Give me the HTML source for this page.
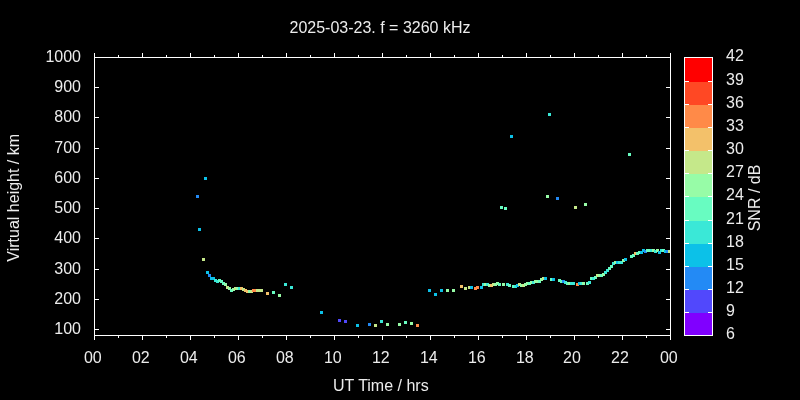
<!DOCTYPE html><html><head><meta charset="utf-8"><title>plot</title><style>
html,body{margin:0;padding:0;background:#000;}svg{display:block}
text{font-family:"Liberation Sans",Arial,sans-serif;font-size:16px;fill:#ececec}
.l{stroke:#fff;stroke-width:1;fill:none;shape-rendering:crispEdges}
</style></head><body>
<svg width="800" height="400" viewBox="0 0 800 400">
<rect x="0" y="0" width="800" height="400" fill="#000"/>
<g shape-rendering="crispEdges">
<rect x="204" y="177" width="3" height="3" fill="#0cc1e8"/>
<rect x="196" y="195" width="3" height="3" fill="#238af5"/>
<rect x="198" y="228" width="3" height="3" fill="#0cc1e8"/>
<rect x="202" y="258" width="3" height="3" fill="#c5e88a"/>
<rect x="206" y="271" width="3" height="3" fill="#0cc1e8"/>
<rect x="208" y="274" width="3" height="3" fill="#238af5"/>
<rect x="210" y="277" width="3" height="3" fill="#0cc1e8"/>
<rect x="212" y="277" width="3" height="3" fill="#0cc1e8"/>
<rect x="214" y="279" width="3" height="3" fill="#3ae8d7"/>
<rect x="216" y="280" width="3" height="3" fill="#3ae8d7"/>
<rect x="218" y="279" width="3" height="3" fill="#68fcc1"/>
<rect x="220" y="280" width="3" height="3" fill="#68fcc1"/>
<rect x="222" y="282" width="3" height="3" fill="#68fcc1"/>
<rect x="224" y="283" width="3" height="3" fill="#97fca7"/>
<rect x="226" y="286" width="3" height="3" fill="#c5e88a"/>
<rect x="228" y="287" width="3" height="3" fill="#97fca7"/>
<rect x="230" y="289" width="3" height="3" fill="#68fcc1"/>
<rect x="232" y="288" width="3" height="3" fill="#97fca7"/>
<rect x="234" y="287" width="3" height="3" fill="#c5e88a"/>
<rect x="236" y="287" width="3" height="3" fill="#97fca7"/>
<rect x="238" y="287" width="3" height="3" fill="#3ae8d7"/>
<rect x="240" y="287" width="3" height="3" fill="#f3c16a"/>
<rect x="242" y="288" width="3" height="3" fill="#c5e88a"/>
<rect x="244" y="289" width="3" height="3" fill="#f3c16a"/>
<rect x="246" y="290" width="3" height="3" fill="#f3c16a"/>
<rect x="248" y="290" width="3" height="3" fill="#97fca7"/>
<rect x="250" y="290" width="3" height="3" fill="#c5e88a"/>
<rect x="252" y="289" width="3" height="3" fill="#ff8a48"/>
<rect x="254" y="289" width="3" height="3" fill="#ff8a48"/>
<rect x="256" y="289" width="3" height="3" fill="#c5e88a"/>
<rect x="258" y="289" width="3" height="3" fill="#c5e88a"/>
<rect x="260" y="289" width="3" height="3" fill="#c5e88a"/>
<rect x="266" y="292" width="3" height="3" fill="#f3c16a"/>
<rect x="272" y="291" width="3" height="3" fill="#68fcc1"/>
<rect x="278" y="294" width="3" height="3" fill="#97fca7"/>
<rect x="284" y="283" width="3" height="3" fill="#3ae8d7"/>
<rect x="290" y="286" width="3" height="3" fill="#3ae8d7"/>
<rect x="320" y="311" width="3" height="3" fill="#0cc1e8"/>
<rect x="338" y="319" width="3" height="3" fill="#5148fc"/>
<rect x="344" y="320" width="3" height="3" fill="#5148fc"/>
<rect x="356" y="324" width="3" height="3" fill="#0cc1e8"/>
<rect x="368" y="323" width="3" height="3" fill="#238af5"/>
<rect x="374" y="324" width="3" height="3" fill="#c5e88a"/>
<rect x="380" y="320" width="3" height="3" fill="#3ae8d7"/>
<rect x="386" y="323" width="3" height="3" fill="#97fca7"/>
<rect x="398" y="323" width="3" height="3" fill="#97fca7"/>
<rect x="404" y="321" width="3" height="3" fill="#68fcc1"/>
<rect x="410" y="322" width="3" height="3" fill="#97fca7"/>
<rect x="416" y="324" width="3" height="3" fill="#ff8a48"/>
<rect x="428" y="289" width="3" height="3" fill="#0cc1e8"/>
<rect x="434" y="293" width="3" height="3" fill="#0cc1e8"/>
<rect x="440" y="289" width="3" height="3" fill="#0cc1e8"/>
<rect x="446" y="289" width="3" height="3" fill="#97fca7"/>
<rect x="452" y="289" width="3" height="3" fill="#97fca7"/>
<rect x="460" y="285" width="3" height="3" fill="#f3c16a"/>
<rect x="464" y="287" width="3" height="3" fill="#c5e88a"/>
<rect x="468" y="286" width="3" height="3" fill="#c5e88a"/>
<rect x="470" y="286" width="3" height="3" fill="#0cc1e8"/>
<rect x="474" y="287" width="3" height="3" fill="#ff8a48"/>
<rect x="476" y="286" width="3" height="3" fill="#ff8a48"/>
<rect x="480" y="286" width="3" height="3" fill="#0cc1e8"/>
<rect x="482" y="283" width="3" height="3" fill="#3ae8d7"/>
<rect x="484" y="283" width="3" height="3" fill="#97fca7"/>
<rect x="486" y="283" width="3" height="3" fill="#3ae8d7"/>
<rect x="488" y="284" width="3" height="3" fill="#97fca7"/>
<rect x="490" y="284" width="3" height="3" fill="#f3c16a"/>
<rect x="492" y="283" width="3" height="3" fill="#c5e88a"/>
<rect x="494" y="283" width="3" height="3" fill="#97fca7"/>
<rect x="496" y="282" width="3" height="3" fill="#97fca7"/>
<rect x="498" y="283" width="3" height="3" fill="#68fcc1"/>
<rect x="502" y="283" width="3" height="3" fill="#97fca7"/>
<rect x="506" y="283" width="3" height="3" fill="#3ae8d7"/>
<rect x="508" y="284" width="3" height="3" fill="#68fcc1"/>
<rect x="512" y="285" width="3" height="3" fill="#68fcc1"/>
<rect x="514" y="285" width="3" height="3" fill="#3ae8d7"/>
<rect x="516" y="284" width="3" height="3" fill="#0cc1e8"/>
<rect x="518" y="283" width="3" height="3" fill="#c5e88a"/>
<rect x="520" y="284" width="3" height="3" fill="#97fca7"/>
<rect x="522" y="284" width="3" height="3" fill="#c5e88a"/>
<rect x="524" y="283" width="3" height="3" fill="#97fca7"/>
<rect x="526" y="282" width="3" height="3" fill="#97fca7"/>
<rect x="528" y="282" width="3" height="3" fill="#68fcc1"/>
<rect x="530" y="281" width="3" height="3" fill="#97fca7"/>
<rect x="532" y="281" width="3" height="3" fill="#3ae8d7"/>
<rect x="534" y="280" width="3" height="3" fill="#97fca7"/>
<rect x="536" y="280" width="3" height="3" fill="#97fca7"/>
<rect x="538" y="280" width="3" height="3" fill="#68fcc1"/>
<rect x="540" y="278" width="3" height="3" fill="#97fca7"/>
<rect x="542" y="277" width="3" height="3" fill="#c5e88a"/>
<rect x="544" y="277" width="3" height="3" fill="#0cc1e8"/>
<rect x="550" y="278" width="3" height="3" fill="#68fcc1"/>
<rect x="552" y="278" width="3" height="3" fill="#0cc1e8"/>
<rect x="558" y="279" width="3" height="3" fill="#68fcc1"/>
<rect x="560" y="280" width="3" height="3" fill="#68fcc1"/>
<rect x="562" y="280" width="3" height="3" fill="#238af5"/>
<rect x="564" y="281" width="3" height="3" fill="#3ae8d7"/>
<rect x="566" y="282" width="3" height="3" fill="#68fcc1"/>
<rect x="568" y="282" width="3" height="3" fill="#97fca7"/>
<rect x="570" y="282" width="3" height="3" fill="#3ae8d7"/>
<rect x="572" y="282" width="3" height="3" fill="#3ae8d7"/>
<rect x="576" y="283" width="3" height="3" fill="#ff8a48"/>
<rect x="578" y="282" width="3" height="3" fill="#0cc1e8"/>
<rect x="580" y="282" width="3" height="3" fill="#3ae8d7"/>
<rect x="582" y="282" width="3" height="3" fill="#97fca7"/>
<rect x="586" y="282" width="3" height="3" fill="#68fcc1"/>
<rect x="588" y="281" width="3" height="3" fill="#3ae8d7"/>
<rect x="590" y="277" width="3" height="3" fill="#68fcc1"/>
<rect x="592" y="277" width="3" height="3" fill="#3ae8d7"/>
<rect x="594" y="276" width="3" height="3" fill="#68fcc1"/>
<rect x="596" y="274" width="3" height="3" fill="#c5e88a"/>
<rect x="598" y="274" width="3" height="3" fill="#97fca7"/>
<rect x="600" y="274" width="3" height="3" fill="#68fcc1"/>
<rect x="602" y="273" width="3" height="3" fill="#97fca7"/>
<rect x="604" y="271" width="3" height="3" fill="#3ae8d7"/>
<rect x="606" y="269" width="3" height="3" fill="#3ae8d7"/>
<rect x="608" y="267" width="3" height="3" fill="#68fcc1"/>
<rect x="610" y="265" width="3" height="3" fill="#68fcc1"/>
<rect x="612" y="262" width="3" height="3" fill="#3ae8d7"/>
<rect x="614" y="261" width="3" height="3" fill="#97fca7"/>
<rect x="616" y="261" width="3" height="3" fill="#0cc1e8"/>
<rect x="618" y="261" width="3" height="3" fill="#3ae8d7"/>
<rect x="620" y="261" width="3" height="3" fill="#3ae8d7"/>
<rect x="622" y="259" width="3" height="3" fill="#97fca7"/>
<rect x="624" y="258" width="3" height="3" fill="#0cc1e8"/>
<rect x="630" y="255" width="3" height="3" fill="#68fcc1"/>
<rect x="632" y="254" width="3" height="3" fill="#68fcc1"/>
<rect x="634" y="252" width="3" height="3" fill="#f3c16a"/>
<rect x="636" y="252" width="3" height="3" fill="#68fcc1"/>
<rect x="638" y="251" width="3" height="3" fill="#68fcc1"/>
<rect x="640" y="251" width="3" height="3" fill="#0cc1e8"/>
<rect x="642" y="249" width="3" height="3" fill="#0cc1e8"/>
<rect x="644" y="250" width="3" height="3" fill="#238af5"/>
<rect x="646" y="249" width="3" height="3" fill="#68fcc1"/>
<rect x="648" y="249" width="3" height="3" fill="#68fcc1"/>
<rect x="650" y="249" width="3" height="3" fill="#3ae8d7"/>
<rect x="652" y="249" width="3" height="3" fill="#97fca7"/>
<rect x="654" y="250" width="3" height="3" fill="#3ae8d7"/>
<rect x="656" y="249" width="3" height="3" fill="#97fca7"/>
<rect x="658" y="251" width="3" height="3" fill="#0cc1e8"/>
<rect x="660" y="249" width="3" height="3" fill="#3ae8d7"/>
<rect x="662" y="249" width="3" height="3" fill="#68fcc1"/>
<rect x="664" y="250" width="3" height="3" fill="#0cc1e8"/>
<rect x="666" y="250" width="3" height="3" fill="#238af5"/>
<rect x="668" y="250" width="3" height="3" fill="#c5e88a"/>
<rect x="548" y="113" width="3" height="3" fill="#3ae8d7"/>
<rect x="510" y="135" width="3" height="3" fill="#0cc1e8"/>
<rect x="500" y="206" width="3" height="3" fill="#68fcc1"/>
<rect x="504" y="207" width="3" height="3" fill="#68fcc1"/>
<rect x="546" y="195" width="3" height="3" fill="#97fca7"/>
<rect x="556" y="197" width="3" height="3" fill="#238af5"/>
<rect x="574" y="206" width="3" height="3" fill="#c5e88a"/>
<rect x="584" y="203" width="3" height="3" fill="#97fca7"/>
<rect x="628" y="153" width="3" height="3" fill="#68fcc1"/>
</g>
<g shape-rendering="crispEdges">
<rect x="94" y="57" width="577" height="1" fill="#fff"/>
<rect x="94" y="335" width="577" height="1" fill="#fff"/>
<rect x="94" y="57" width="1" height="279" fill="#fff"/>
<rect x="670" y="57" width="1" height="279" fill="#fff"/>
<rect x="94" y="53" width="1" height="5" fill="#fff"/>
<rect x="94" y="335" width="1" height="5" fill="#fff"/>
<rect x="118" y="55" width="1" height="3" fill="#fff"/>
<rect x="118" y="335" width="1" height="3" fill="#fff"/>
<rect x="142" y="53" width="1" height="5" fill="#fff"/>
<rect x="142" y="335" width="1" height="5" fill="#fff"/>
<rect x="166" y="55" width="1" height="3" fill="#fff"/>
<rect x="166" y="335" width="1" height="3" fill="#fff"/>
<rect x="190" y="53" width="1" height="5" fill="#fff"/>
<rect x="190" y="335" width="1" height="5" fill="#fff"/>
<rect x="214" y="55" width="1" height="3" fill="#fff"/>
<rect x="214" y="335" width="1" height="3" fill="#fff"/>
<rect x="238" y="53" width="1" height="5" fill="#fff"/>
<rect x="238" y="335" width="1" height="5" fill="#fff"/>
<rect x="262" y="55" width="1" height="3" fill="#fff"/>
<rect x="262" y="335" width="1" height="3" fill="#fff"/>
<rect x="286" y="53" width="1" height="5" fill="#fff"/>
<rect x="286" y="335" width="1" height="5" fill="#fff"/>
<rect x="310" y="55" width="1" height="3" fill="#fff"/>
<rect x="310" y="335" width="1" height="3" fill="#fff"/>
<rect x="334" y="53" width="1" height="5" fill="#fff"/>
<rect x="334" y="335" width="1" height="5" fill="#fff"/>
<rect x="358" y="55" width="1" height="3" fill="#fff"/>
<rect x="358" y="335" width="1" height="3" fill="#fff"/>
<rect x="382" y="53" width="1" height="5" fill="#fff"/>
<rect x="382" y="335" width="1" height="5" fill="#fff"/>
<rect x="406" y="55" width="1" height="3" fill="#fff"/>
<rect x="406" y="335" width="1" height="3" fill="#fff"/>
<rect x="430" y="53" width="1" height="5" fill="#fff"/>
<rect x="430" y="335" width="1" height="5" fill="#fff"/>
<rect x="454" y="55" width="1" height="3" fill="#fff"/>
<rect x="454" y="335" width="1" height="3" fill="#fff"/>
<rect x="478" y="53" width="1" height="5" fill="#fff"/>
<rect x="478" y="335" width="1" height="5" fill="#fff"/>
<rect x="502" y="55" width="1" height="3" fill="#fff"/>
<rect x="502" y="335" width="1" height="3" fill="#fff"/>
<rect x="526" y="53" width="1" height="5" fill="#fff"/>
<rect x="526" y="335" width="1" height="5" fill="#fff"/>
<rect x="550" y="55" width="1" height="3" fill="#fff"/>
<rect x="550" y="335" width="1" height="3" fill="#fff"/>
<rect x="574" y="53" width="1" height="5" fill="#fff"/>
<rect x="574" y="335" width="1" height="5" fill="#fff"/>
<rect x="598" y="55" width="1" height="3" fill="#fff"/>
<rect x="598" y="335" width="1" height="3" fill="#fff"/>
<rect x="622" y="53" width="1" height="5" fill="#fff"/>
<rect x="622" y="335" width="1" height="5" fill="#fff"/>
<rect x="646" y="55" width="1" height="3" fill="#fff"/>
<rect x="646" y="335" width="1" height="3" fill="#fff"/>
<rect x="670" y="53" width="1" height="5" fill="#fff"/>
<rect x="670" y="335" width="1" height="5" fill="#fff"/>
<rect x="94" y="329" width="5" height="1" fill="#fff"/>
<rect x="666" y="329" width="5" height="1" fill="#fff"/>
<rect x="94" y="299" width="5" height="1" fill="#fff"/>
<rect x="666" y="299" width="5" height="1" fill="#fff"/>
<rect x="94" y="269" width="5" height="1" fill="#fff"/>
<rect x="666" y="269" width="5" height="1" fill="#fff"/>
<rect x="94" y="238" width="5" height="1" fill="#fff"/>
<rect x="666" y="238" width="5" height="1" fill="#fff"/>
<rect x="94" y="208" width="5" height="1" fill="#fff"/>
<rect x="666" y="208" width="5" height="1" fill="#fff"/>
<rect x="94" y="178" width="5" height="1" fill="#fff"/>
<rect x="666" y="178" width="5" height="1" fill="#fff"/>
<rect x="94" y="148" width="5" height="1" fill="#fff"/>
<rect x="666" y="148" width="5" height="1" fill="#fff"/>
<rect x="94" y="117" width="5" height="1" fill="#fff"/>
<rect x="666" y="117" width="5" height="1" fill="#fff"/>
<rect x="94" y="87" width="5" height="1" fill="#fff"/>
<rect x="666" y="87" width="5" height="1" fill="#fff"/>
<rect x="94" y="57" width="5" height="1" fill="#fff"/>
<rect x="666" y="57" width="5" height="1" fill="#fff"/>
<rect x="684" y="313" width="29" height="23" fill="#8000ff"/>
<rect x="684" y="290" width="29" height="23" fill="#5148fc"/>
<rect x="684" y="267" width="29" height="23" fill="#238af5"/>
<rect x="684" y="244" width="29" height="23" fill="#0cc1e8"/>
<rect x="684" y="221" width="29" height="23" fill="#3ae8d7"/>
<rect x="684" y="197" width="29" height="24" fill="#68fcc1"/>
<rect x="684" y="174" width="29" height="23" fill="#97fca7"/>
<rect x="684" y="151" width="29" height="23" fill="#c5e88a"/>
<rect x="684" y="128" width="29" height="23" fill="#f3c16a"/>
<rect x="684" y="105" width="29" height="23" fill="#ff8a48"/>
<rect x="684" y="82" width="29" height="23" fill="#ff4824"/>
<rect x="684" y="57" width="29" height="25" fill="#ff0000"/>
<rect x="684" y="57" width="29" height="1" fill="#fff"/>
<rect x="684" y="335" width="29" height="1" fill="#fff"/>
<rect x="684" y="57" width="1" height="279" fill="#fff"/>
<rect x="712" y="57" width="1" height="279" fill="#fff"/>
<rect x="684" y="312" width="5" height="1" fill="#fff"/>
<rect x="708" y="312" width="5" height="1" fill="#fff"/>
<rect x="684" y="289" width="5" height="1" fill="#fff"/>
<rect x="708" y="289" width="5" height="1" fill="#fff"/>
<rect x="684" y="266" width="5" height="1" fill="#fff"/>
<rect x="708" y="266" width="5" height="1" fill="#fff"/>
<rect x="684" y="243" width="5" height="1" fill="#fff"/>
<rect x="708" y="243" width="5" height="1" fill="#fff"/>
<rect x="684" y="220" width="5" height="1" fill="#fff"/>
<rect x="708" y="220" width="5" height="1" fill="#fff"/>
<rect x="684" y="196" width="5" height="1" fill="#fff"/>
<rect x="708" y="196" width="5" height="1" fill="#fff"/>
<rect x="684" y="173" width="5" height="1" fill="#fff"/>
<rect x="708" y="173" width="5" height="1" fill="#fff"/>
<rect x="684" y="150" width="5" height="1" fill="#fff"/>
<rect x="708" y="150" width="5" height="1" fill="#fff"/>
<rect x="684" y="127" width="5" height="1" fill="#fff"/>
<rect x="708" y="127" width="5" height="1" fill="#fff"/>
<rect x="684" y="104" width="5" height="1" fill="#fff"/>
<rect x="708" y="104" width="5" height="1" fill="#fff"/>
<rect x="684" y="81" width="5" height="1" fill="#fff"/>
<rect x="708" y="81" width="5" height="1" fill="#fff"/>
</g>
<text x="380" y="33" text-anchor="middle">2025-03-23. f = 3260 kHz</text>
<text x="81" y="334.0" text-anchor="end">100</text>
<text x="81" y="304.0" text-anchor="end">200</text>
<text x="81" y="274.0" text-anchor="end">300</text>
<text x="81" y="243.0" text-anchor="end">400</text>
<text x="81" y="213.0" text-anchor="end">500</text>
<text x="81" y="183.0" text-anchor="end">600</text>
<text x="81" y="153.0" text-anchor="end">700</text>
<text x="81" y="122.0" text-anchor="end">800</text>
<text x="81" y="92.0" text-anchor="end">900</text>
<text x="81" y="62.0" text-anchor="end">1000</text>
<text x="92.8" y="363" text-anchor="middle">00</text>
<text x="140.8" y="363" text-anchor="middle">02</text>
<text x="188.8" y="363" text-anchor="middle">04</text>
<text x="236.8" y="363" text-anchor="middle">06</text>
<text x="284.8" y="363" text-anchor="middle">08</text>
<text x="332.8" y="363" text-anchor="middle">10</text>
<text x="380.8" y="363" text-anchor="middle">12</text>
<text x="428.8" y="363" text-anchor="middle">14</text>
<text x="476.8" y="363" text-anchor="middle">16</text>
<text x="524.8" y="363" text-anchor="middle">18</text>
<text x="572.0" y="363" text-anchor="middle">20</text>
<text x="620.0" y="363" text-anchor="middle">22</text>
<text x="668.8" y="363" text-anchor="middle">00</text>
<text x="380.8" y="391" text-anchor="middle">UT Time / hrs</text>
<text transform="translate(19,197.8) rotate(-90)" text-anchor="middle">Virtual height / km</text>
<text transform="translate(760,198) rotate(-90)" text-anchor="middle">SNR / dB</text>
<text x="726" y="339">6</text>
<text x="726" y="316">9</text>
<text x="726" y="293">12</text>
<text x="726" y="270">15</text>
<text x="726" y="247">18</text>
<text x="726" y="224">21</text>
<text x="726" y="200">24</text>
<text x="726" y="177">27</text>
<text x="726" y="154">30</text>
<text x="726" y="131">33</text>
<text x="726" y="108">36</text>
<text x="726" y="85">39</text>
<text x="726" y="61">42</text>
</svg></body></html>
